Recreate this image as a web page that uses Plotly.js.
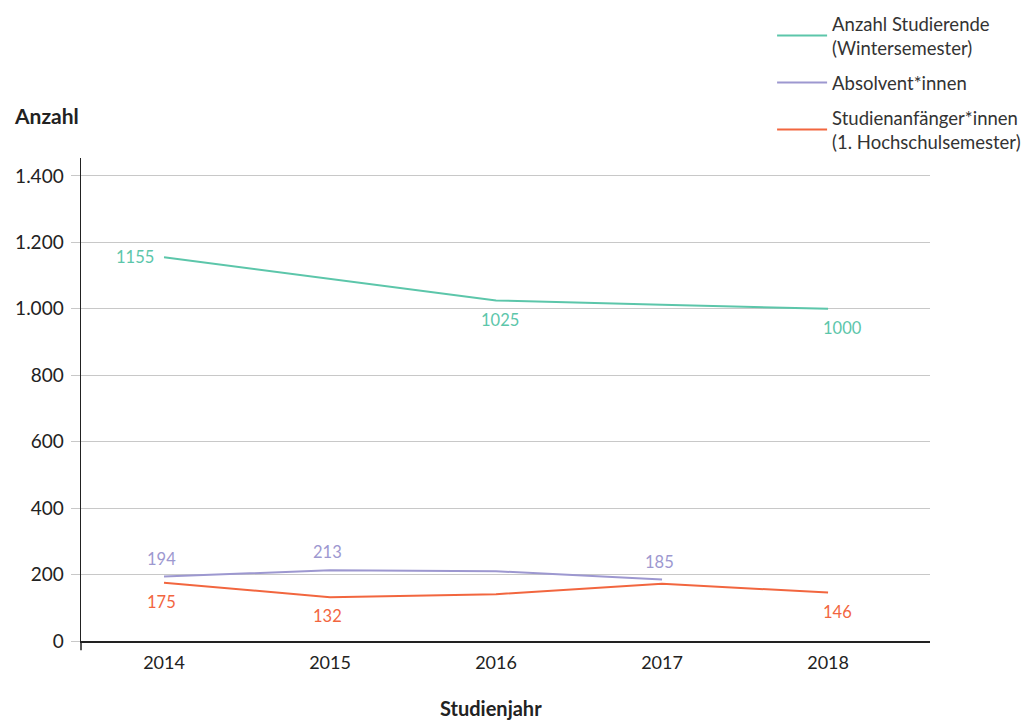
<!DOCTYPE html>
<html>
<head>
<meta charset="utf-8">
<script src="https://cdn.plot.ly/plotly-3.0.1.min.js"></script>
<style>html,body{margin:0;padding:0;background:#fff;}#chart{width:1036px;height:721px;}</style>
</head>
<body>
<div id="chart"></div>
<script>
// ---- data ----
const years = ['2014', '2015', '2016', '2017', '2018'];
const studierende = [1155, 1090, 1025, 1012, 1000];
const absolventen = [194, 213, 210, 185, null];
const anfaenger = [175, 132, 141, 172, 146];
// which points carry a value label
const studierendeLabels = [1155, null, 1025, null, 1000];
const absolventenLabels = [194, 213, null, 185, null];
const anfaengerLabels = [175, 132, null, null, 146];
const seriesNames = ['Anzahl Studierende<br>(Wintersemester)', 'Absolvent*innen', 'Studienanfänger*innen<br>(1. Hochschulsemester)'];
const yTicks = [0, 200, 400, 600, 800, 1000, 1200, 1400];

const colors = ['#5cc6aa', '#9d98d0', '#f2663f'];
const FONT = 'Lato, "Open Sans", sans-serif';
const xRange = [-0.5, 4.614];

const traces = [
  {x: years, y: studierende, name: seriesNames[0], legendgroup: 'a', mode: 'lines', line: {color: colors[0], width: 2}, hoverinfo: 'skip'},
  {x: years, y: absolventen, name: seriesNames[1], legendgroup: 'b', mode: 'lines', line: {color: colors[1], width: 2}, hoverinfo: 'skip'},
  {x: years, y: anfaenger, name: seriesNames[2], legendgroup: 'c', mode: 'lines', line: {color: colors[2], width: 2}, hoverinfo: 'skip'}
];

const annotations = [];
function addLabels(labels, color, mode) {
  labels.forEach((v, i) => {
    if (v === null) return;
    const a = {x: i, y: v, xref: 'x', yref: 'y', text: String(v), showarrow: false,
      xanchor: 'center', yanchor: 'middle',
      font: {family: FONT, size: 16.5, color: color}};
    if (mode === 'left' && i === 0) { a.xanchor = 'right'; a.xshift = -8; a.yshift = 0; }
    else if (mode === 'above') { a.yshift = 18; a.xshift = -3; }
    else if (mode === 'below-teal') { a.yshift = -19; a.xshift = (i === labels.length - 1) ? 14 : 4; }
    else { a.yshift = -19; a.xshift = (i === labels.length - 1) ? 9 : -3; }
    annotations.push(a);
  });
}
addLabels(studierendeLabels.map((v, i) => i === 0 ? v : null), colors[0], 'left');
addLabels(studierendeLabels.map((v, i) => i === 0 ? null : v), colors[0], 'below-teal');
addLabels(absolventenLabels, colors[1], 'above');
addLabels(anfaengerLabels, colors[2], 'below');

annotations.push({xref: 'paper', yref: 'paper', x: -0.0813, y: 1.089, xanchor: 'left', yanchor: 'middle',
  text: '<b>Anzahl</b>', showarrow: false, font: {family: FONT, size: 21, color: '#222'}});
annotations.push({xref: 'paper', yref: 'paper', x: 0.483, y: -0.138, xanchor: 'center', yanchor: 'middle',
  text: '<b>Studienjahr</b>', showarrow: false, font: {family: FONT, size: 20, color: '#222'}});

const layout = {
  width: 1036, height: 721,
  margin: {l: 81, r: 106, t: 158, b: 80, autoexpand: false},
  paper_bgcolor: '#fff', plot_bgcolor: '#fff',
  separators: ',.',
  font: {family: FONT, size: 16, color: '#333'},
  showlegend: true,
  legend: {x: 0.814, y: 1.317, xanchor: 'left', yanchor: 'top', itemwidth: 50,
    font: {family: FONT, size: 18.5, color: '#333'}, tracegroupgap: 8, valign: 'middle', bgcolor: 'rgba(0,0,0,0)'},
  xaxis: {type: 'category', range: xRange, showgrid: false, zeroline: false,
    showline: true, linecolor: '#222', linewidth: 1.5, ticks: '', ticklabelstandoff: 5,
    tickfont: {family: FONT, size: 18, color: '#222'}, fixedrange: true},
  xaxis2: {type: 'linear', overlaying: 'x', anchor: 'y', side: 'bottom', range: xRange,
    tickmode: 'array', tickvals: [-0.5, 0.5, 1.5, 2.5, 3.5], ticks: 'outside', ticklen: 12, tickwidth: 1.2,
    tickcolor: '#222', showticklabels: false, showgrid: false, zeroline: false, showline: false},
  yaxis: {range: [0, 1454], tickmode: 'array', tickvals: yTicks, tickformat: ',d',
    showgrid: true, gridcolor: '#c8c8c8', gridwidth: 1, zeroline: false,
    showline: true, linecolor: '#222', linewidth: 1.5,
    ticks: 'outside', ticklen: 9, tickcolor: '#c8c8c8', ticklabelstandoff: 3,
    tickfont: {family: FONT, size: 19, color: '#222'}, fixedrange: true},
  shapes: [{type: 'line', xref: 'paper', yref: 'paper', x0: 0, x1: 0, y0: -0.019, y1: 0,
    line: {color: '#222', width: 1.5}}],
  annotations: annotations
};

Plotly.newPlot('chart', traces, layout, {displayModeBar: false, staticPlot: true});
</script>
</body>
</html>
